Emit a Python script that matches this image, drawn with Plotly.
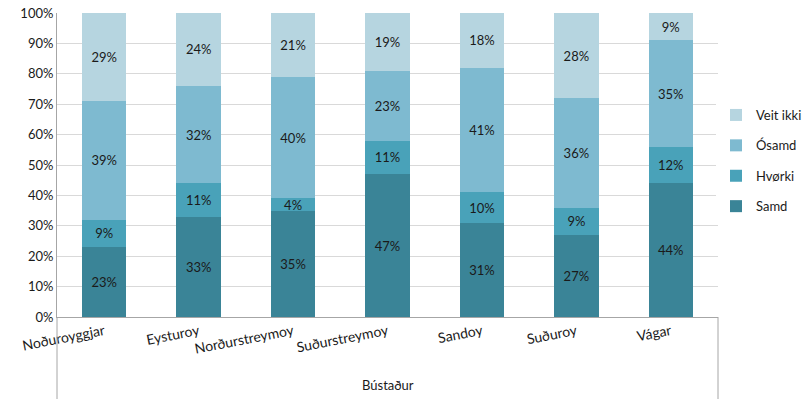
import plotly.graph_objects as go

categories = ["Noðuroyggjar", "Eysturoy", "Norðurstreymoy", "Suðurstreymoy", "Sandoy", "Suðuroy", "Vágar"]
samd = [23, 33, 35, 47, 31, 27, 44]
hvorki = [9, 11, 4, 11, 10, 9, 12]
osamd = [39, 32, 40, 23, 41, 36, 35]
veit_ikki = [29, 24, 21, 19, 18, 28, 9]
y_ticks = [0, 10, 20, 30, 40, 50, 60, 70, 80, 90, 100]

series = [
    ("Samd", samd, "#3A8497"),
    ("Hvørki", hvorki, "#49A2B9"),
    ("Ósamd", osamd, "#7EBAD0"),
    ("Veit ikki", veit_ikki, "#B6D5E0"),
]

FONT = "Lato, 'Open Sans', sans-serif"

fig = go.Figure()
for i, (name, vals, col) in enumerate(series):
    fig.add_trace(go.Bar(
        x=categories, y=vals, name=name, marker_color=col,
        marker_line_width=0,
        text=[f"{v}%" for v in vals], textposition="inside",
        insidetextanchor="middle", textangle=0,
        textfont=dict(color="#1a1a1a", size=13, family=FONT),
        legendgroup=name, legendrank=100 - i,
    ))

W, H = 804, 399
L, R, T, B = 57, 718, 13, 317
ph = B - T
fig.update_layout(
    width=W, height=H, barmode="stack", bargap=0.53,
    margin=dict(l=L, r=W - R, t=T, b=H - B, autoexpand=False),
    paper_bgcolor="white", plot_bgcolor="white",
    font=dict(family=FONT, size=13, color="#1a1a1a"),
    showlegend=True,
    legend=dict(x=(716 - L) / (R - L), xanchor="left",
                y=(B - 161) / ph, yanchor="middle",
                traceorder="grouped", tracegroupgap=10.5,
                font=dict(size=13), itemwidth=30),
    uniformtext=dict(mode="show", minsize=13),
)
fig.update_xaxes(tickangle=-11, showline=True, linecolor="#A6A6A6", linewidth=1,
                 ticks="", tickfont=dict(size=14), showgrid=False)
fig.update_yaxes(range=[0, 100], tickvals=y_ticks, ticktext=[f"{v}%" for v in y_ticks],
                 showgrid=True, gridcolor="#D9D9D9", gridwidth=1,
                 showline=True, linecolor="#A6A6A6", linewidth=1,
                 ticks="", tickfont=dict(size=13), zeroline=False)

# category-axis box lines below plot
bottom = -(H - B) / ph
for xv in (0, 1):
    fig.add_shape(type="line", xref="x domain", yref="y domain",
                  x0=xv, x1=xv, y0=0, y1=bottom, line=dict(color="#A6A6A6", width=1))
fig.add_annotation(text="Bústaður", xref="x domain", yref="y domain",
                   x=0.5, y=-(385 - B) / ph, showarrow=False,
                   font=dict(size=13), yanchor="middle")

fig.write_html("out.html", config={"displayModeBar": False},
               post_script="document.body.style.margin='0';document.body.style.overflow='hidden';")
